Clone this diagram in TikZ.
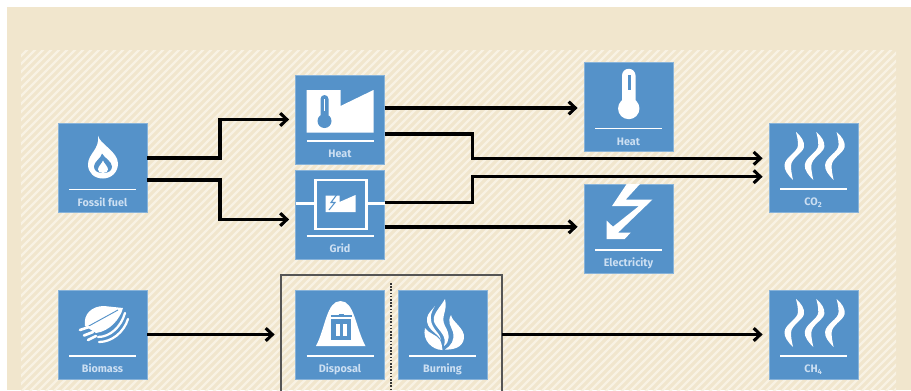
\documentclass[tikz,border=0pt]{standalone}
\usepackage{fontspec}
\setmainfont{Fira Sans}
\usetikzlibrary{arrows.meta,calc}
\definecolor{tileblue}{HTML}{5592C9}
\definecolor{sand}{HTML}{F1E6CD}
\definecolor{sandlight}{HTML}{F8F2E4}
\definecolor{labelblue}{HTML}{CCDFF2}
\definecolor{framegray}{HTML}{555555}
\tikzset{
  tile/.style={fill=tileblue,draw=tileblue!70!white,line width=.4pt,minimum size=66.75pt,inner sep=0pt,outer sep=0pt},
  tilelabel/.style={text=labelblue,font=\bfseries\fontsize{8.1}{9}\selectfont,inner sep=0pt,anchor=base},
  tilerule/.style={draw=white,line width=1.1pt},
  flow/.style={draw=black,line width=2.6pt,line join=miter,-{Straight Barb[length=5pt,width=9.5pt,line width=2.3pt]},shorten >=4.8pt}
}
\newcommand{\tilebox}[4]{%
  \node[tile] (#1) at (#2,#3) {};
  \begin{scope}[shift={(#1.north west)}]
    \draw[tilerule] (11,66) -- (78,66);
    \node[tilelabel] (#1-text) at (44.5,82.5) {#4};
  \end{scope}}
\newcommand{\steamicon}{%
  \foreach \dx in {0,20.3,40.6}{
    \fill[white,xshift=\dx*0.75pt] (27,9) .. controls (32,13) and (36,19) .. (35,24) .. controls (34,30) and (22,35) .. (22,43) .. controls (22,48) and (23,52) .. (24,57) .. controls (19,52) and (15,47) .. (15.5,42) .. controls (16,34) and (29,29) .. (29,22) .. controls (29,17) and (28,13) .. (27,9) -- cycle;
  }}
\begin{document}
\begin{tikzpicture}[x=0.75pt,y=-0.75pt]
\useasboundingbox (0,0) rectangle (911,390);
\begin{scope}
\clip (0,0) rectangle (911,390);
\fill[white] (0,0) rectangle (911,390);
\fill[sand] (7,7) rectangle (911,390);
\begin{scope}
  \clip (21,50) rectangle (896,390);
  \fill[sand] (21,50) rectangle (896,390);
  \foreach \k in {-350,-342,...,910}{
    \draw[sandlight,line width=1.7pt] (\k,395) -- (\k+350,45);
  }
\end{scope}

% frame and divider
\node[draw=framegray,line width=1.2pt,minimum width=165.75pt,minimum height=97.5pt,inner sep=0pt,outer sep=0pt] (frame) at (391.5,340) {};
\coordinate (divtop) at (391,283);
\coordinate (divbot) at (391,390);
\draw[black!80,line width=.8pt,dash pattern=on 1.2pt off 1.2pt] (divtop) -- (divbot);

% tiles
\tilebox{fossil}{102.5}{168}{Fossil fuel}
\tilebox{heat}{340}{119.5}{Heat}
\tilebox{grid}{340}{214.5}{Grid}
\tilebox{heatout}{628.5}{107}{Heat}
\tilebox{elec}{628.5}{228.5}{Electricity}
\tilebox{co}{813.5}{167.5}{CO\textsubscript{2}}
\tilebox{biomass}{102.5}{334.5}{Biomass}
\tilebox{disposal}{340}{334.5}{Disposal}
\tilebox{burning}{442.5}{334.5}{Burning}
\tilebox{ch}{813.5}{334.5}{CH\textsubscript{4}}

% fossil flame
\begin{scope}[shift={(fossil.north west)}]
  \fill[white] (40,12) .. controls (41,20) and (60,28) .. (60,40) .. controls (60,49) and (53,55) .. (45,55) .. controls (36,55) and (30,49) .. (30,41) .. controls (30,30) and (42,26) .. (40,12) -- cycle;
  \fill[tileblue] (44,30) .. controls (46,34) and (54,38) .. (54,43) .. controls (54,47) and (51,49.5) .. (45,49.5) .. controls (39,49.5) and (36,47) .. (36,43) .. controls (36,38) and (43,35) .. (44,30) -- cycle;
  \fill[white] (45,37) .. controls (46,40) and (50,43) .. (50,46) .. controls (50,48) and (48,49.5) .. (45,49.5) .. controls (42,49.5) and (40,48) .. (40,46) .. controls (40,43) and (44,40) .. (45,37) -- cycle;
\end{scope}

% factory with thermometer
\begin{scope}[shift={(heat.north west)}]
  \fill[white] (11,15) -- (45,15) -- (45,31) -- (78,15) -- (78,57.5) -- (11,57.5) -- cycle;
  \fill[tileblue] (25,24) arc[start angle=180,end angle=360,radius=4] -- (33,40) -- (25,40) -- cycle;
  \fill[tileblue] (29,46) circle[radius=7];
  \fill[white] (28.2,24) rectangle (29.8,36);
\end{scope}

% grid icon
\begin{scope}[shift={(grid.north west)}]
  \draw[white,line width=1.9pt] (20,10) rectangle (71,59);
  \draw[white,line width=1.6pt] (0,33.5) -- (20,33.5) (71,33.5) -- (89,33.5);
  \fill[white] (30,25.5) -- (44,25.5) -- (44,32) -- (60,25) -- (60,42) -- (30,42) -- cycle;
  \draw[tileblue,line width=.8pt] (41,25) -- (35.5,32.5) -- (39.5,32.5) -- (33.5,40);
\end{scope}

% thermometer
\begin{scope}[shift={(heatout.north west)}]
  \fill[white] (38,13) arc[start angle=180,end angle=360,radius=6.75] -- (51.5,40) -- (38,40) -- cycle;
  \fill[white] (44.75,46) circle[radius=10.7];
  \fill[tileblue] (43.5,12) rectangle (46.5,27);
\end{scope}

% lightning arrow
\begin{scope}[shift={(elec.north west)},x=0.25pt,y=-0.25pt]
  \fill[white] (128,0) -- (168,0) -- (125,47) -- (205,47) -- (102,146) -- (140,146) -- (122,165) -- (68,165) -- (68,110) -- (87,128) -- (165,66) -- (84,66) -- cycle;
\end{scope}

% steam
\begin{scope}[shift={(co.north west)}]\steamicon\end{scope}
\begin{scope}[shift={(ch.north west)}]\steamicon\end{scope}

% biomass
\begin{scope}[shift={(biomass.north west)}]
  \fill[white] (27,36) .. controls (25,24) and (34,16) .. (46,16) -- (65,18) .. controls (62,29) and (52,41) .. (38,43) -- cycle;
  \draw[tileblue,line width=.7pt] (29,37) -- (60,20);
  \draw[white,line width=1.7pt,line cap=round] (40,47) .. controls (52,47) and (63,37) .. (67,23);
  \draw[white,line width=1.7pt,line cap=round] (41,52) .. controls (54,52) and (66,42) .. (70,29);
  \draw[white,line width=2pt,line cap=round] (22,40) -- (31,37);
  \draw[white,line width=2pt,line cap=round] (26,45.5) -- (35,42);
  \draw[white,line width=2pt,line cap=round] (30,50) -- (38,46);
\end{scope}

% disposal heap
\begin{scope}[shift={(disposal.north west)}]
  \fill[white] (20.5,56) .. controls (30,38) and (31,11) .. (45,11) .. controls (59,11) and (60,38) .. (70,56) -- cycle;
  \fill[tileblue] (35.5,29) rectangle (55.5,50);
  \fill[white] (40,33.5) rectangle (44,46);
  \fill[white] (47.5,33.5) rectangle (51.5,46);
  \draw[tileblue,line width=1.1pt] (35,26) -- (56,26);
  \draw[tileblue,line width=1pt] (43,24.5) -- (48,24.5);
\end{scope}

% burning flame
\begin{scope}[shift={(burning.north west)}]
  \fill[white] (47,9) .. controls (50,22) and (42,26) .. (47,36) .. controls (52,44) and (52,52) .. (46,56) .. controls (49,46) and (42,42) .. (37,34) .. controls (32,26) and (42,18) .. (47,9) -- cycle;
  \fill[white] (37,16) .. controls (32,24) and (31,30) .. (36,38) .. controls (39,43) and (42,44) .. (43,50) .. controls (39,42) and (28,40) .. (29,28) .. controls (30,23) and (34,20) .. (37,16) -- cycle;
  \fill[white] (53,25) .. controls (54,32) and (67,38) .. (66,48) .. controls (65,58) and (54,60) .. (47,59.5) .. controls (53,56) and (57,50) .. (55,42) .. controls (53,36) and (49,32) .. (53,25) -- cycle;
  \fill[white] (27,38) .. controls (31,44) and (38,44) .. (42,50) .. controls (44,54) and (44,57) .. (44.5,60) .. controls (34,60) and (24,50) .. (27,38) -- cycle;
\end{scope}

% connectors
\coordinate (bendup) at (220,140);
\coordinate (gridin) at ($(grid.west)+(0,5)$);
\coordinate (heatin) at ($(heatout.west)+(0,1)$);
\coordinate (elecin) at ($(elec.west)+(0,-1.7)$);
\coordinate (coupper) at ($(co.west)+(0,-9.2)$);
\coordinate (colower) at ($(co.west)+(0,9.2)$);
\coordinate (bendco) at (472.5,168);
\draw[flow] ($(fossil.east)+(0,-10)$) -| (bendup |- heat.west) -- (heat.west);
\draw[flow] ($(fossil.east)+(0,12)$) -| (bendup |- gridin) -- (gridin);
\draw[flow] (heat.east |- heatin) -- (heatin);
\draw[flow] ($(heat.east)+(0,14.5)$) -| (bendco |- coupper) -- (coupper);
\draw[flow] ($(grid.east)+(0,-12.2)$) -| (bendco |- colower) -- (colower);
\draw[flow] (grid.east |- elecin) -- (elecin);
\draw[flow] (biomass.east) -- (biomass.east -| frame.west);
\draw[flow] (frame.east |- ch.west) -- (ch.west);
\end{scope}
\end{tikzpicture}
\end{document}
